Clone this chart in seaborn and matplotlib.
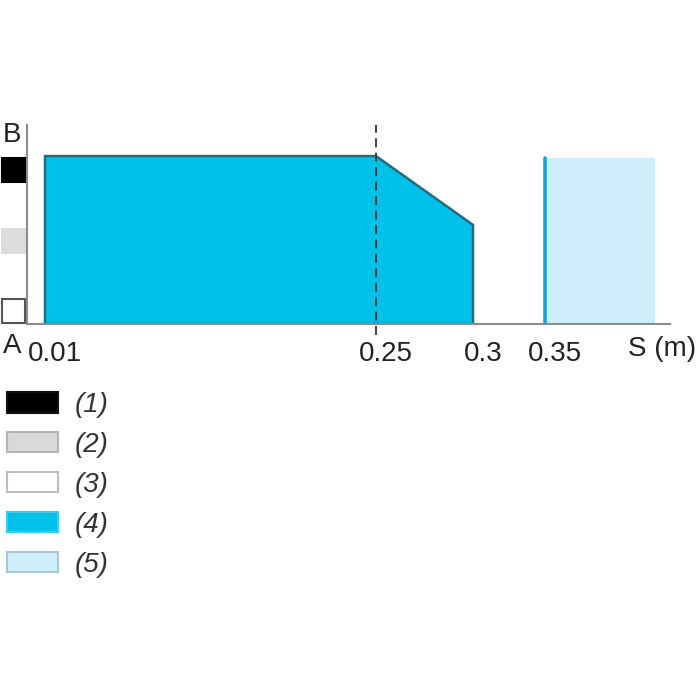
import numpy as np
import matplotlib
matplotlib.use('Agg')
import matplotlib.pyplot as plt
from matplotlib.patches import Patch, Rectangle
from matplotlib.transforms import ScaledTranslation
import seaborn as sns

# distance S (m) and output level (A = 0, B = 1)
zone4_s = [0.01, 0.01, 0.25, 0.3, 0.3]
zone4_level = [0.0, 1.0, 1.0, 0.59, 0.0]
zone5_s = [0.35, 0.4]
zone5_level = 0.99
dashed_s = 0.25

tick_values = [0.01, 0.25, 0.3, 0.35]
tick_labels = ['0.01', '0.25', '0.3', '0.35']
marked_ticks = [0.01, 0.25, 0.3]
axis_label = 'S (m)'

legend_labels = ['(1)', '(2)', '(3)', '(4)', '(5)']
legend_faces = ['#000000', '#d9d9d9', '#ffffff', '#00c2e8', '#cdeefa']
legend_edges = ['#111111', '#b5b5b5', '#bdbdbd', '#3ccbec', '#aac8d4']

# the drawing is schematic: the S axis is not evenly spaced
s_knots = [0.0, 0.01, 0.25, 0.3, 0.35, 0.4, 0.42]
u_knots = [0, 18, 349, 446, 518, 628, 643]


def forward(s):
    return np.interp(s, s_knots, u_knots)


def inverse(u):
    return np.interp(u, u_knots, s_knots)


sns.set_theme(style='white')
plt.rcParams['font.family'] = ['Liberation Sans', 'DejaVu Sans']

fig = plt.figure(figsize=(7, 7), dpi=100)
ax = fig.add_axes([27 / 700, 1 - 324 / 700, 643 / 700, 199 / 700])
ax.set_xscale('function', functions=(forward, inverse))
ax.set_xlim(0, 0.42)
ax.set_ylim(0, 1.185)

ax.fill(zone4_s, zone4_level, facecolor='#00c2e8', edgecolor='#1f6d82', lw=1.8, zorder=2)
ax.fill_between(zone5_s, 0, zone5_level, facecolor='#cdeefa', edgecolor='none', zorder=2)
sns.lineplot(x=[zone5_s[0], zone5_s[0]], y=[0, zone5_level], estimator=None, sort=False,
             color='#1e9fd6', lw=2.6, ax=ax, zorder=3)
ax.axvline(dashed_s, ymin=-0.055, ymax=1.0, color='#333333', lw=1.3,
           ls=(0, (5, 3)), clip_on=False, zorder=4)

for side in ['top', 'right']:
    ax.spines[side].set_visible(False)
for side in ['left', 'bottom']:
    ax.spines[side].set_color('#8c8c8c')
    ax.spines[side].set_linewidth(1.5)

ax.set_yticks([])
ax.set_xticks(tick_values, tick_labels)
ax.set_xticks(marked_ticks, minor=True)
ax.tick_params(axis='x', which='major', length=0, pad=12, labelsize=20, labelcolor='#222222')
ax.tick_params(axis='x', which='minor', length=6, width=1.2, color='#444444', bottom=True)
shift = ScaledTranslation(10 / 100, 0, fig.dpi_scale_trans)
for lbl in ax.get_xticklabels():
    lbl.set_transform(lbl.get_transform() + shift)

ax.text((662 - 27) / 643, -12 / 199, axis_label, transform=ax.transAxes,
        ha='center', va='top', fontsize=20, color='#222222')

# level markers on the vertical axis
ytr = ax.get_yaxis_transform()
ax.text(-15 / 643, 1.125, 'B', transform=ytr, ha='center', va='center', fontsize=20, color='#222222')
ax.text(-15 / 643, -0.13, 'A', transform=ytr, ha='center', va='center', fontsize=20, color='#222222')
for bottom, face, edge in [(0.845, '#000000', '#000000'), (0.423, '#dcdcdc', '#dcdcdc'), (0.006, '#ffffff', '#555555')]:
    ax.add_patch(Rectangle((-25 / 643, bottom), 23 / 643, 0.142, transform=ytr,
                           facecolor=face, edgecolor=edge, lw=1.5, clip_on=False))

handles = [Patch(facecolor=f, edgecolor=e, lw=1.5) for f, e in zip(legend_faces, legend_edges)]
leg = fig.legend(handles, legend_labels, loc='upper left', bbox_to_anchor=(7 / 700, 1 - 392 / 700),
                 frameon=False, prop={'style': 'italic', 'size': 20},
                 handlelength=1.85, handleheight=0.76, labelspacing=0.5,
                 handletextpad=0.6, borderpad=0, borderaxespad=0)
for t in leg.get_texts():
    t.set_color('#333333')

fig.savefig('out.png', dpi=100)
